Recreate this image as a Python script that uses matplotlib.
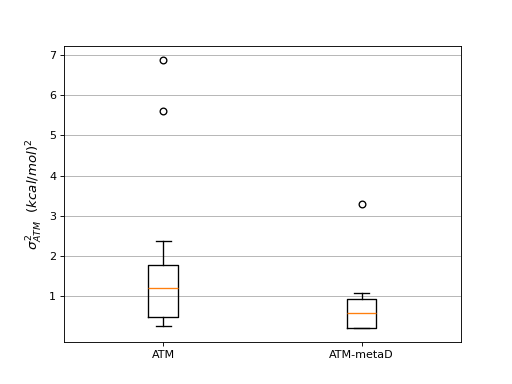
import matplotlib
matplotlib.use("Agg")
import matplotlib.pyplot as plt

# variance estimates per run, (kcal/mol)^2
labels = ["ATM", "ATM-metaD"]
atm = [0.27, 0.35, 0.42, 0.49, 0.70, 1.00, 1.22, 1.40, 1.60, 1.78, 2.37, 5.61, 6.88]
atm_metad = [0.21, 0.22, 0.23, 0.45, 0.60, 0.80, 0.94, 1.09, 3.30]
yticks = [1, 2, 3, 4, 5, 6, 7]

fig, ax = plt.subplots(figsize=(6.4, 4.8), dpi=80)
lw = 1.2
ax.boxplot([atm, atm_metad], tick_labels=labels,
           boxprops=dict(linewidth=lw), whiskerprops=dict(linewidth=lw),
           capprops=dict(linewidth=lw), medianprops=dict(linewidth=lw),
           flierprops=dict(markeredgewidth=lw))
ax.set_yticks(yticks)
ax.yaxis.grid(True)
ax.set_ylabel(r"$\sigma^2_{ATM}$  $(kcal/mol)^2$", fontsize=12)

fig.savefig("out.png")
